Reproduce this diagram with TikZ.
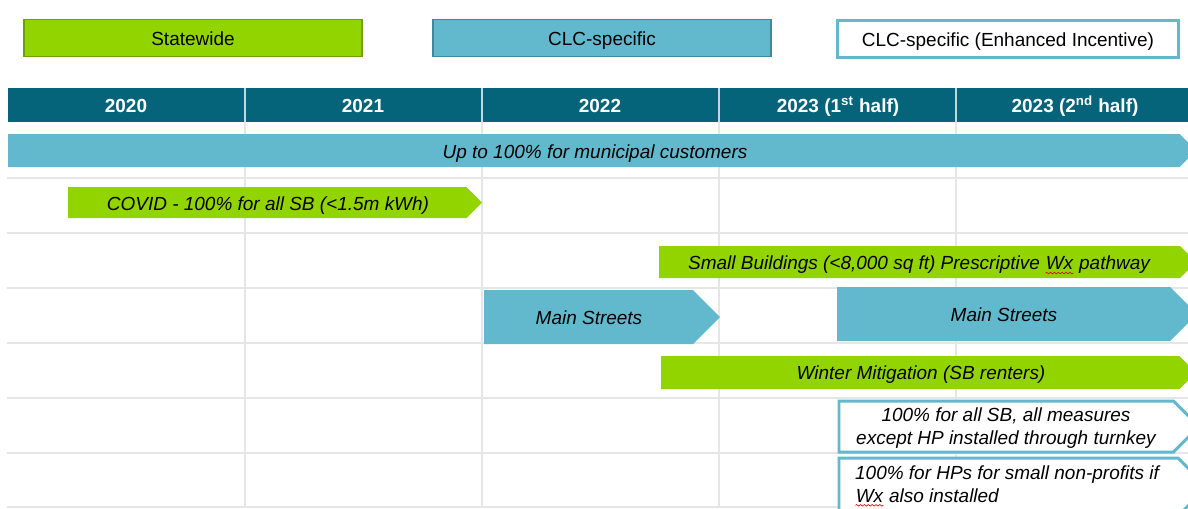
\documentclass[tikz,border=0pt]{standalone}
\usepackage{fontspec}
\setmainfont{Liberation Sans}
\usetikzlibrary{decorations.pathmorphing}
\definecolor{swgreen}{RGB}{146,212,0}
\definecolor{swgreenline}{RGB}{110,160,0}
\definecolor{clcblue}{RGB}{98,184,204}
\definecolor{clcblueline}{RGB}{62,138,156}
\definecolor{headteal}{RGB}{5,99,122}
\definecolor{gridgray}{RGB}{230,230,230}
% pointed bar: style, left x, top y, tip x, bottom y
\newcommand\pointbar[5]{%
  \path[#1] (#2,#3) -- ({#4-(#5-#3)/2},#3) -- (#4,{(#3+#5)/2})
    -- ({#4-(#5-#3)/2},#5) -- (#2,#5) -- cycle;}
% red spell-check wave under a word
\newcommand\spellwave[1]{\tikz[baseline=(sw.base)]{\node[inner sep=0pt, text height=, text depth=] (sw) {#1};
  \draw[red!85!black, line width=0.35pt, decorate,
    decoration={snake, amplitude=0.45pt, segment length=2.2pt}]
    ([yshift=-1.8pt]sw.base west) -- ([yshift=-1.8pt]sw.base east);}}
\begin{document}
\begin{tikzpicture}[x=0.02cm, y=-0.02cm,
  every node/.style={font=\fontsize{10.8}{13}\selectfont, text height=11.2pt, text depth=2.2pt},
  twoline/.style={text height=, text depth=},
  legendbox/.style={draw, line width=1.1pt, minimum width=6.76cm, minimum height=0.74cm, inner sep=0pt},
  headtext/.style={text=white, font=\fontsize{10.8}{13}\selectfont\bfseries},
  bartext/.style={font=\fontsize{10.8}{13}\selectfont\itshape, align=center},
  gridline/.style={draw=gridgray, line width=0.9pt},
  greenbar/.style={fill=swgreen},
  bluebar/.style={fill=clcblue},
  enhbar/.style={fill=white, draw=clcblue, line width=1.7pt, line join=miter}]
\useasboundingbox (0,0) rectangle (1188,508);
\clip (0,0) rectangle (1188,508);
\fill[white] (0,0) rectangle (1188,508);

% legend
\node[legendbox, fill=swgreen, draw=swgreenline] (lgsw) at (193,38) {Statewide};
\node[legendbox, fill=clcblue, draw=clcblueline] (lgclc) at (602,38) {CLC-specific};
\node[legendbox, fill=white, draw=clcblue, line width=1.7pt, minimum width=6.84cm] (lgenh) at (1008,39) {CLC-specific (Enhanced Incentive)};

% grid of the timeline body
\foreach \yy in {178,233,288,343,398,453,507} \draw[gridline] (7,\yy) -- (1188,\yy);
\foreach \xx in {245,482,719,956} \draw[gridline] (\xx,122) -- (\xx,508);

% header row
\fill[headteal] (8,88) rectangle (1188,122);
\foreach \xx in {245,482,719,956} \draw[white!75!headteal, line width=0.8pt] (\xx,88) -- (\xx,122);
\node[headtext] (h20) at (126,105) {2020};
\node[headtext] (h21) at (363,105) {2021};
\node[headtext] (h22) at (600,105) {2022};
\node[headtext] (h23a) at (838,105) {2023 (1\textsuperscript{st} half)};
\node[headtext] (h23b) at (1075,105) {2023 (2\textsuperscript{nd} half)};

% programme bars
\pointbar{bluebar}{8}{134}{1196}{167}
\node[bartext] (muni) at (595,151) {Up to 100\% for municipal customers};

\pointbar{greenbar}{68}{187}{482}{218}
\node[bartext] (covid) at (268,203) {COVID - 100\% for all SB (<1.5m kWh)};

\pointbar{greenbar}{659}{246}{1196}{278}
\node[bartext] (smallb) at (919,262) {Small Buildings (<8,000 sq ft) Prescriptive \spellwave{Wx} pathway};

\pointbar{bluebar}{484}{290}{720}{344}
\node[bartext] (ms1) at (589,317) {Main Streets};

\pointbar{bluebar}{837}{287}{1197}{341}
\node[bartext] (ms2) at (1004,314) {Main Streets};

\pointbar{greenbar}{661}{356}{1196}{389}
\node[bartext] (winter) at (921,372) {Winter Mitigation (SB renters)};

\pointbar{enhbar}{839}{401}{1199}{452}
\node[bartext, twoline] (enh1) at (1006,428) {100\% for all SB, all measures\\except HP installed through turnkey};

\pointbar{enhbar}{839}{458}{1207}{516}
\node[bartext, twoline, align=left] (enh2) at (1007,486) {100\% for HPs for small non-profits if\\\spellwave{Wx} also installed};
\end{tikzpicture}
\end{document}
